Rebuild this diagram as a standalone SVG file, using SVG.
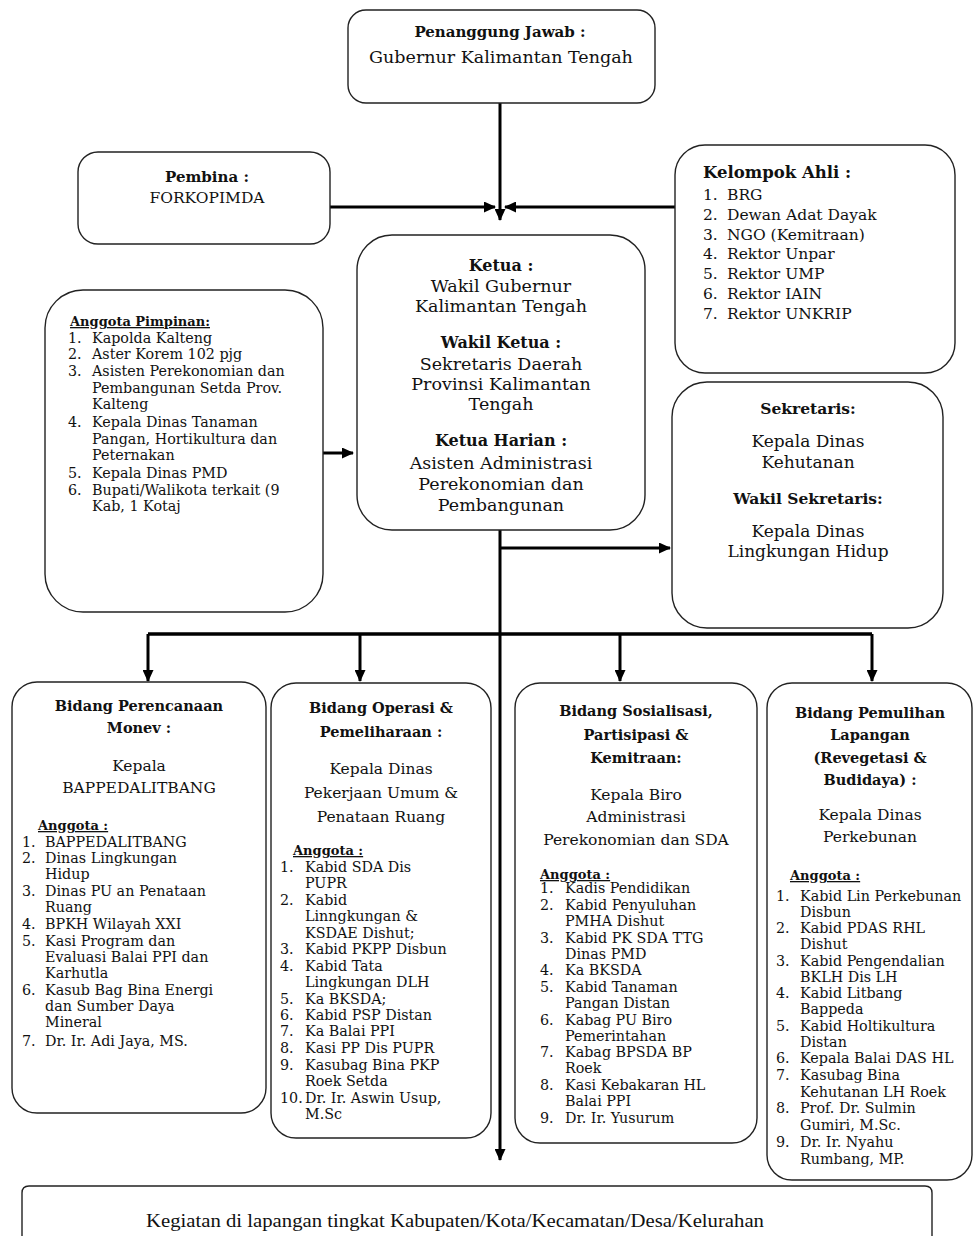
<svg xmlns="http://www.w3.org/2000/svg" width="974" height="1236" viewBox="0 0 974 1236">
<style>
.bg{fill:#fff}
.box{fill:#fff;stroke:#222;stroke-width:1.4}
text{font-family:"DejaVu Serif","Liberation Serif",serif;fill:#111}
.b{font-weight:bold}
.c{text-anchor:middle}
.u{text-decoration:underline}
.h15{font-size:15px}
.h14{font-size:14.5px}
.r17{font-size:17.5px}
.r16{font-size:15.5px}
.l15{font-size:15.5px}
.l13{font-size:14.3px}
.conn{stroke:#000;stroke-width:3;fill:none}
</style>
<defs>
<marker id="ah" markerUnits="userSpaceOnUse" markerWidth="12" markerHeight="11" refX="11" refY="5.5" orient="auto">
<path d="M0,0 L12,5.5 L0,11 z" fill="#000"/>
</marker>
</defs>
<rect class="bg" x="0" y="0" width="974" height="1236"/>

<g id="connectors">
<path class="conn" d="M500,103 V220" marker-end="url(#ah)"/>
<path class="conn" d="M330,207 H495" marker-end="url(#ah)"/>
<path class="conn" d="M675,207 H505" marker-end="url(#ah)"/>
<path class="conn" d="M323,453 H353" marker-end="url(#ah)"/>
<path class="conn" d="M500,530 V1160" marker-end="url(#ah)"/>
<path class="conn" d="M500,548 H670" marker-end="url(#ah)"/>
<path class="conn" d="M148,634 H872" style="stroke-width:3.5"/>
<path class="conn" d="M148,634 V681" marker-end="url(#ah)"/>
<path class="conn" d="M360,634 V681" marker-end="url(#ah)"/>
<path class="conn" d="M620,634 V681" marker-end="url(#ah)"/>
<path class="conn" d="M872,634 V681" marker-end="url(#ah)"/>
</g>

<g id="penanggung-jawab">
<rect class="box" x="348" y="10" width="307" height="93" rx="18"/>
<text class="b c h15" x="500" y="37">Penanggung Jawab :</text>
<text class="c r17" x="501" y="63">Gubernur Kalimantan Tengah</text>
</g>

<g id="pembina">
<rect class="box" x="78" y="152" width="252" height="92" rx="20"/>
<text class="b c h15" x="207" y="182">Pembina :</text>
<text class="c r16" x="207" y="203">FORKOPIMDA</text>
</g>

<g id="kelompok-ahli">
<rect class="box" x="675" y="145" width="280" height="228" rx="30"/>
<text class="b" style="font-size:16.5px" x="703" y="178">Kelompok Ahli :</text>
<g class="l15">
<text x="703" y="200">1.</text><text x="727" y="200">BRG</text>
<text x="703" y="220">2.</text><text x="727" y="220">Dewan Adat Dayak</text>
<text x="703" y="240">3.</text><text x="727" y="240">NGO (Kemitraan)</text>
<text x="703" y="259">4.</text><text x="727" y="259">Rektor Unpar</text>
<text x="703" y="279">5.</text><text x="727" y="279">Rektor UMP</text>
<text x="703" y="299">6.</text><text x="727" y="299">Rektor IAIN</text>
<text x="703" y="319">7.</text><text x="727" y="319">Rektor UNKRIP</text>
</g>
</g>

<g id="anggota-pimpinan">
<rect class="box" x="45" y="290" width="278" height="322" rx="38"/>
<text class="b u" style="font-size:13px" x="70" y="326">Anggota Pimpinan:</text>
<g class="l13">
<text x="68" y="343">1.</text><text x="92" y="343">Kapolda Kalteng</text>
<text x="68" y="359">2.</text><text x="92" y="359">Aster Korem 102 pjg</text>
<text x="68" y="376">3.</text><text x="92" y="376">Asisten Perekonomian dan</text>
<text x="92" y="393">Pembangunan Setda Prov.</text>
<text x="92" y="409">Kalteng</text>
<text x="68" y="427">4.</text><text x="92" y="427">Kepala Dinas Tanaman</text>
<text x="92" y="444">Pangan, Hortikultura dan</text>
<text x="92" y="460">Peternakan</text>
<text x="68" y="478">5.</text><text x="92" y="478">Kepala Dinas PMD</text>
<text x="68" y="495">6.</text><text x="92" y="495">Bupati/Walikota terkait (9</text>
<text x="92" y="511">Kab, 1 Kotaj</text>
</g>
</g>

<g id="ketua">
<rect class="box" x="357" y="235" width="288" height="295" rx="35"/>
<text class="b c" style="font-size:16px" x="501" y="271">Ketua :</text>
<text class="c r17" x="501" y="292">Wakil Gubernur</text>
<text class="c r17" x="501" y="312">Kalimantan Tengah</text>
<text class="b c" style="font-size:16px" x="501" y="348">Wakil Ketua :</text>
<text class="c r17" x="501" y="370">Sekretaris Daerah</text>
<text class="c r17" x="501" y="390">Provinsi Kalimantan</text>
<text class="c r17" x="501" y="410">Tengah</text>
<text class="b c" style="font-size:16px" x="501" y="446">Ketua Harian :</text>
<text class="c r17" x="501" y="469">Asisten Administrasi</text>
<text class="c r17" x="501" y="490">Perekonomian dan</text>
<text class="c r17" x="501" y="511">Pembangunan</text>
</g>

<g id="sekretaris">
<rect class="box" x="672" y="382" width="271" height="246" rx="35"/>
<text class="b c" style="font-size:15.5px" x="808" y="414">Sekretaris:</text>
<text class="c" style="font-size:17px" x="808" y="447">Kepala Dinas</text>
<text class="c" style="font-size:17px" x="808" y="468">Kehutanan</text>
<text class="b c" style="font-size:15.5px" x="808" y="504">Wakil Sekretaris:</text>
<text class="c" style="font-size:17px" x="808" y="537">Kepala Dinas</text>
<text class="c" style="font-size:17px" x="808" y="557">Lingkungan Hidup</text>
</g>

<g id="bidang-perencanaan">
<rect class="box" x="12" y="682" width="254" height="431" rx="25"/>
<text class="b c h14" x="139" y="711">Bidang Perencanaan</text>
<text class="b c h14" x="139" y="733">Monev :</text>
<text class="c r16" x="139" y="771">Kepala</text>
<text class="c r16" x="139" y="793">BAPPEDALITBANG</text>
<text class="b u" style="font-size:13px" x="38" y="830">Anggota :</text>
<g class="l13">
<text x="22" y="847">1.</text><text x="45" y="847">BAPPEDALITBANG</text>
<text x="22" y="863">2.</text><text x="45" y="863">Dinas Lingkungan</text>
<text x="45" y="879">Hidup</text>
<text x="22" y="896">3.</text><text x="45" y="896">Dinas PU an Penataan</text>
<text x="45" y="912">Ruang</text>
<text x="22" y="929">4.</text><text x="45" y="929">BPKH Wilayah XXI</text>
<text x="22" y="946">5.</text><text x="45" y="946">Kasi Program dan</text>
<text x="45" y="962">Evaluasi Balai PPI dan</text>
<text x="45" y="978">Karhutla</text>
<text x="22" y="995">6.</text><text x="45" y="995">Kasub Bag Bina Energi</text>
<text x="45" y="1011">dan Sumber Daya</text>
<text x="45" y="1027">Mineral</text>
<text x="22" y="1046">7.</text><text x="45" y="1046">Dr. Ir. Adi Jaya, MS.</text>
</g>
</g>

<g id="bidang-operasi">
<rect class="box" x="271" y="683" width="220" height="455" rx="25"/>
<text class="b c h14" x="381" y="713">Bidang Operasi &amp;</text>
<text class="b c h14" x="381" y="737">Pemeliharaan :</text>
<text class="c r16" x="381" y="774">Kepala Dinas</text>
<text class="c r16" x="381" y="798">Pekerjaan Umum &amp;</text>
<text class="c r16" x="381" y="822">Penataan Ruang</text>
<text class="b u" style="font-size:13px" x="293" y="855">Anggota :</text>
<g class="l13">
<text x="280" y="872">1.</text><text x="305" y="872">Kabid SDA Dis</text>
<text x="305" y="888">PUPR</text>
<text x="280" y="905">2.</text><text x="305" y="905">Kabid</text>
<text x="305" y="921">Linngkungan &amp;</text>
<text x="305" y="938">KSDAE Dishut;</text>
<text x="280" y="954">3.</text><text x="305" y="954">Kabid PKPP Disbun</text>
<text x="280" y="971">4.</text><text x="305" y="971">Kabid Tata</text>
<text x="305" y="987">Lingkungan DLH</text>
<text x="280" y="1004">5.</text><text x="305" y="1004">Ka BKSDA;</text>
<text x="280" y="1020">6.</text><text x="305" y="1020">Kabid PSP Distan</text>
<text x="280" y="1036">7.</text><text x="305" y="1036">Ka Balai PPI</text>
<text x="280" y="1053">8.</text><text x="305" y="1053">Kasi PP Dis PUPR</text>
<text x="280" y="1070">9.</text><text x="305" y="1070">Kasubag Bina PKP</text>
<text x="305" y="1086">Roek Setda</text>
<text x="280" y="1103">10.</text><text x="305" y="1103">Dr. Ir. Aswin Usup,</text>
<text x="305" y="1119">M.Sc</text>
</g>
</g>

<g id="bidang-sosialisasi">
<rect class="box" x="515" y="683" width="242" height="460" rx="25"/>
<text class="b c h14" x="636" y="716">Bidang Sosialisasi,</text>
<text class="b c h14" x="636" y="740">Partisipasi &amp;</text>
<text class="b c h14" x="636" y="763">Kemitraan:</text>
<text class="c r16" x="636" y="800">Kepala Biro</text>
<text class="c r16" x="636" y="822">Administrasi</text>
<text class="c r16" x="636" y="845">Perekonomian dan SDA</text>
<text class="b u" style="font-size:13px" x="540" y="879">Anggota :</text>
<g class="l13">
<text x="540" y="893">1.</text><text x="565" y="893">Kadis Pendidikan</text>
<text x="540" y="910">2.</text><text x="565" y="910">Kabid Penyuluhan</text>
<text x="565" y="926">PMHA Dishut</text>
<text x="540" y="943">3.</text><text x="565" y="943">Kabid PK SDA TTG</text>
<text x="565" y="959">Dinas PMD</text>
<text x="540" y="975">4.</text><text x="565" y="975">Ka BKSDA</text>
<text x="540" y="992">5.</text><text x="565" y="992">Kabid Tanaman</text>
<text x="565" y="1008">Pangan Distan</text>
<text x="540" y="1025">6.</text><text x="565" y="1025">Kabag  PU Biro</text>
<text x="565" y="1041">Pemerintahan</text>
<text x="540" y="1057">7.</text><text x="565" y="1057">Kabag  BPSDA BP</text>
<text x="565" y="1073">Roek</text>
<text x="540" y="1090">8.</text><text x="565" y="1090">Kasi Kebakaran HL</text>
<text x="565" y="1106">Balai PPI</text>
<text x="540" y="1123">9.</text><text x="565" y="1123">Dr. Ir. Yusurum</text>
</g>
</g>

<g id="bidang-pemulihan">
<rect class="box" x="767" y="683" width="205" height="497" rx="25"/>
<text class="b c h14" x="870" y="718">Bidang Pemulihan</text>
<text class="b c h14" x="870" y="740">Lapangan</text>
<text class="b c h14" x="870" y="763">(Revegetasi &amp;</text>
<text class="b c h14" x="870" y="785">Budidaya) :</text>
<text class="c r16" x="870" y="820">Kepala Dinas</text>
<text class="c r16" x="870" y="842">Perkebunan</text>
<text class="b u" style="font-size:13px" x="790" y="880">Anggota :</text>
<g class="l13">
<text x="776" y="901">1.</text><text x="800" y="901">Kabid Lin Perkebunan</text>
<text x="800" y="917">Disbun</text>
<text x="776" y="933">2.</text><text x="800" y="933">Kabid PDAS RHL</text>
<text x="800" y="949">Dishut</text>
<text x="776" y="966">3.</text><text x="800" y="966">Kabid Pengendalian</text>
<text x="800" y="982">BKLH Dis LH</text>
<text x="776" y="998">4.</text><text x="800" y="998">Kabid Litbang</text>
<text x="800" y="1014">Bappeda</text>
<text x="776" y="1031">5.</text><text x="800" y="1031">Kabid Holtikultura</text>
<text x="800" y="1047">Distan</text>
<text x="776" y="1063">6.</text><text x="800" y="1063">Kepala Balai DAS HL</text>
<text x="776" y="1080">7.</text><text x="800" y="1080">Kasubag Bina</text>
<text x="800" y="1097">Kehutanan LH Roek</text>
<text x="776" y="1113">8.</text><text x="800" y="1113">Prof. Dr. Sulmin</text>
<text x="800" y="1130">Gumiri, M.Sc.</text>
<text x="776" y="1147">9.</text><text x="800" y="1147">Dr. Ir. Nyahu</text>
<text x="800" y="1164">Rumbang, MP.</text>
</g>
</g>

<g id="kegiatan-lapangan">
<path class="box" d="M22,1240 V1193 Q22,1186 29,1186 H925 Q932,1186 932,1193 V1240"/>
<text class="c" style="font-family:'Liberation Serif',serif;font-size:18px" x="455" y="1227" textLength="618" lengthAdjust="spacingAndGlyphs">Kegiatan di lapangan tingkat Kabupaten/Kota/Kecamatan/Desa/Kelurahan</text>
</g>
</svg>
